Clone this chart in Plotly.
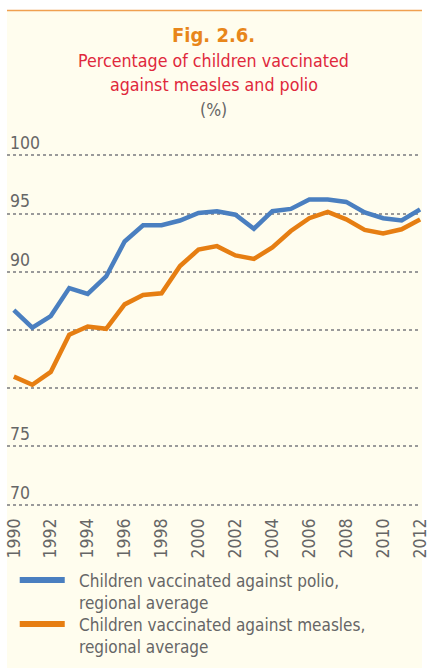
import plotly.graph_objects as go

years = list(range(1990, 2013))
polio = [86.7, 85.2, 86.2, 88.6, 88.1, 89.6, 92.6, 94.0, 94.0, 94.4, 95.05, 95.2,
         94.9, 93.7, 95.2, 95.4, 96.2, 96.2, 96.0, 95.1, 94.6, 94.4, 95.35]
measles = [81.0, 80.3, 81.4, 84.6, 85.3, 85.1, 87.2, 88.0, 88.15, 90.5, 91.9, 92.2,
           91.4, 91.1, 92.1, 93.5, 94.6, 95.15, 94.5, 93.6, 93.3, 93.65, 94.5]
y_ticks = [70, 75, 80, 85, 90, 95, 100]
y_ticktext = ["70", "75", "", "", "90", "95", "100"]
x_ticks = list(range(1990, 2013, 2))
series_names = ["Children vaccinated against polio,<br>regional average",
                "Children vaccinated against measles,<br>regional average"]

BLUE = "#4a7fc0"
ORANGE = "#e67e12"
CREAM = "#fffdee"
GRAY = "#666666"
FONT = "Liberation Sans Narrow, DejaVu Sans Condensed, Arial Narrow, sans-serif"

fig = go.Figure()
fig.add_trace(go.Scatter(x=years, y=polio, mode="lines",
                         line=dict(color=BLUE, width=4.5), showlegend=False))
fig.add_trace(go.Scatter(x=years, y=measles, mode="lines",
                         line=dict(color=ORANGE, width=4.5), showlegend=False))

W, H = 430, 668
ml, mr, mt, mb = 7, 0, 153, 161

fig.update_layout(
    width=W, height=H,
    margin=dict(l=ml, r=mr, t=mt, b=mb, pad=0),
    paper_bgcolor="white",
    plot_bgcolor=CREAM,
    font=dict(family=FONT, color=GRAY, size=18),
    xaxis=dict(range=[1989.63, 2012.05], tickvals=x_ticks, tickangle=-90,
               showgrid=False, zeroline=False, showline=False, ticks="",
               tickfont=dict(size=17.5, color=GRAY), ticklabelstandoff=7,
               ticklabeloverflow="allow"),
    yaxis=dict(range=[69.8, 100.2], tickvals=y_ticks, ticktext=y_ticktext,
               ticklabelposition="inside top", ticklabeloverflow="allow",
               showgrid=True, gridcolor="#9a9a9a", griddash="dot", gridwidth=1.5,
               zeroline=False, showline=False, ticks="",
               tickfont=dict(size=17.5, color=GRAY)),
)

plot_h = H - mt - mb
plot_w = W - ml - mr
def py(Y):
    return (H - mb - Y) / plot_h
def px(X):
    return (X - ml) / plot_w

fig.add_shape(type="rect", xref="paper", yref="paper", x0=px(7), x1=px(431),
              y0=py(10.5), y1=py(670), fillcolor=CREAM, line=dict(width=0), layer="below")
fig.add_shape(type="line", xref="paper", yref="paper", x0=px(7), x1=px(431),
              y0=py(10.5), y1=py(10.5), line=dict(color="#f0a050", width=1.5))

fig.add_annotation(xref="paper", yref="paper", x=px(218), y=py(35), text="<b>Fig. 2.6.</b>",
                   showarrow=False, font=dict(size=20, color="#e8861a", family=FONT),
                   xanchor="center", yanchor="middle")
fig.add_annotation(xref="paper", yref="paper", x=px(218), y=py(61),
                   text="Percentage of children vaccinated", showarrow=False,
                   font=dict(size=17.7, color="#e0283c", family=FONT),
                   xanchor="center", yanchor="middle")
fig.add_annotation(xref="paper", yref="paper", x=px(218), y=py(85),
                   text="against measles and polio", showarrow=False,
                   font=dict(size=17.7, color="#e0283c", family=FONT),
                   xanchor="center", yanchor="middle")
fig.add_annotation(xref="paper", yref="paper", x=px(218), y=py(110), text="(%)",
                   showarrow=False, font=dict(size=17.5, color=GRAY, family=FONT),
                   xanchor="center", yanchor="middle")

for i, (name, col) in enumerate(zip(series_names, [BLUE, ORANGE])):
    yy = 580 + i * 44
    fig.add_shape(type="line", xref="paper", yref="paper", x0=px(20), x1=px(66),
                  y0=py(yy), y1=py(yy), line=dict(color=col, width=6))
    fig.add_annotation(xref="paper", yref="paper", x=px(79), y=py(yy - 11), text=name,
                       showarrow=False, align="left", xanchor="left", yanchor="top",
                       font=dict(size=17, color=GRAY, family=FONT))

fig.write_html("out.html", config={"displayModeBar": False},
               post_script="document.body.style.margin='0';")
